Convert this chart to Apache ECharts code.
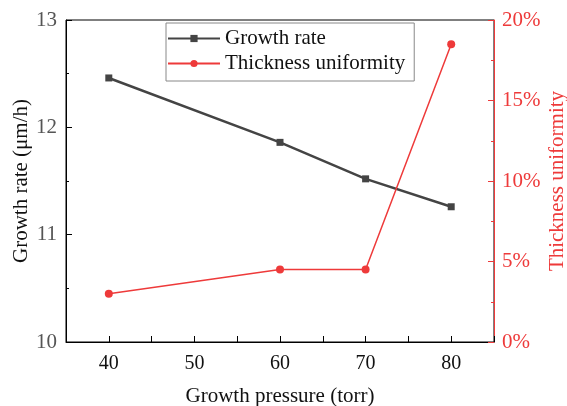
<!DOCTYPE html>
<html>
<head>
<meta charset="utf-8">
<script src="https://cdn.jsdelivr.net/npm/echarts@6/dist/echarts.min.js"></script>
<style>
html,body{margin:0;padding:0;background:#fff;}
#chart{width:567px;height:406px;}
</style>
</head>
<body>
<div id="chart"></div>
<script>
// Growth pressure (torr)
const pressure = [40, 60, 70, 80];
// Growth rate (µm/h)
const growthRate = [12.46, 11.86, 11.52, 11.26];
// Thickness uniformity (%)
const uniformity = [3.0, 4.5, 4.5, 18.5];

const FONT = '"Liberation Serif", "Times New Roman", serif';
const RED = '#ee3a3a';

const chart = echarts.init(document.getElementById('chart'));
chart.setOption({
  backgroundColor: '#fff',
  animation: false,
  grid: {
    left: 66, right: 73, top: 20, bottom: 64,
    outerBoundsMode: 'none',
    show: true, borderColor: '#000', borderWidth: 1
  },
  legend: {
    orient: 'vertical',
    left: 166, top: 23,
    itemWidth: 52, itemHeight: 9, itemGap: 4,
    padding: [5, 9, 7, 1],
    borderColor: '#888', borderWidth: 1,
    textStyle: {fontFamily: FONT, fontSize: 21, color: '#111'},
    data: ['Growth rate', 'Thickness uniformity']
  },
  xAxis: {
    type: 'value', min: 35, max: 85, interval: 5,
    name: 'Growth pressure (torr)', nameLocation: 'middle', nameGap: 44,
    nameMoveOverlap: false,
    nameTextStyle: {fontFamily: FONT, fontSize: 21, color: '#111'},
    axisLine: {lineStyle: {color: '#000', width: 1}},
    axisTick: {inside: true, length: 6, lineStyle: {color: '#000'},
      interval: function (i, v) { return v % 10 === 0 && v >= 40 && v <= 80; }},
    axisLabel: {fontFamily: FONT, fontSize: 20, color: '#111', margin: 12,
      formatter: function (v) { return (v % 10 === 0 && v >= 40 && v <= 80) ? String(v) : ''; }},
    splitLine: {show: false}
  },
  yAxis: [{
    type: 'value', min: 10, max: 13, interval: 1,
    name: 'Growth rate (μm/h)', nameLocation: 'middle', nameGap: 34,
    nameMoveOverlap: false,
    nameTextStyle: {fontFamily: FONT, fontSize: 21, color: '#111'},
    axisLine: {show: true, lineStyle: {color: '#000', width: 1}},
    axisTick: {inside: true, length: 6, lineStyle: {color: '#000'}},
    minorTick: {show: true, splitNumber: 2, length: 3, lineStyle: {color: '#000'}},
    axisLabel: {fontFamily: FONT, fontSize: 21, color: '#555', margin: 9},
    splitLine: {show: false}
  }, {
    type: 'value', min: 0, max: 20, interval: 5, position: 'right',
    name: 'Thickness uniformity', nameLocation: 'middle', nameGap: 53,
    nameMoveOverlap: false,
    nameTextStyle: {fontFamily: FONT, fontSize: 21, color: RED},
    axisLine: {show: true, lineStyle: {color: RED, width: 1}},
    axisTick: {inside: true, length: 6, lineStyle: {color: RED}},
    minorTick: {show: true, splitNumber: 2, length: 3, lineStyle: {color: RED}},
    axisLabel: {fontFamily: FONT, fontSize: 21, color: RED, margin: 8, formatter: '{value}%'},
    splitLine: {show: false}
  }],
  series: [{
    name: 'Growth rate', type: 'line', yAxisIndex: 0,
    data: pressure.map((p, i) => [p, growthRate[i]]),
    symbol: 'rect', symbolSize: 7,
    lineStyle: {color: '#444', width: 2.5},
    itemStyle: {color: '#444'}
  }, {
    name: 'Thickness uniformity', type: 'line', yAxisIndex: 1,
    data: pressure.map((p, i) => [p, uniformity[i]]),
    symbol: 'circle', symbolSize: 8,
    lineStyle: {color: RED, width: 1.5},
    itemStyle: {color: RED}
  }]
});
</script>
</body>
</html>
